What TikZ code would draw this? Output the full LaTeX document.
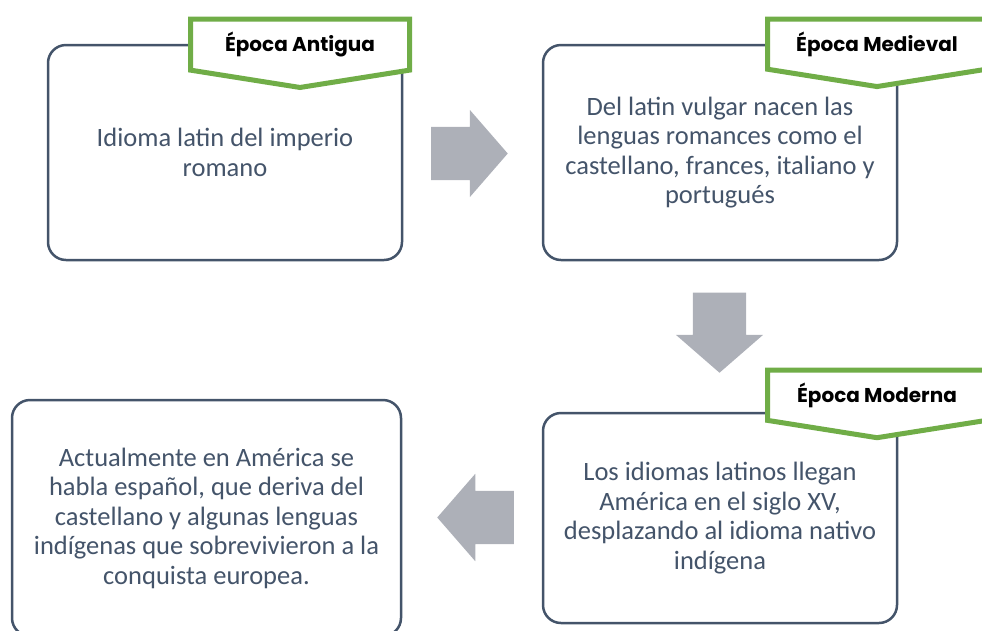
\documentclass[tikz,border=0pt]{standalone}
\usepackage{fontspec}
\setmainfont{Carlito}
\newfontfamily\tagfont{Poppins}
\usetikzlibrary{shapes.symbols,shapes.arrows}
\definecolor{slate}{HTML}{44546A}
\definecolor{leaf}{HTML}{70AD47}
\definecolor{arrowgray}{HTML}{ADB0B8}
\tikzset{
  era box/.style={
    draw=slate,
    line width=2.5pt,
    rounded corners=18pt,
    fill=white,
    text=slate,
    align=center,
    font=\fontsize{26.5}{29.5}\selectfont,
    minimum width={#1},
    inner sep=0pt,
  },
  era tag/.style={
    signal,
    signal to=south,
    signal pointer angle=162,
    draw=leaf,
    line width=5pt,
    fill=white,
    minimum width=219pt,
    minimum height=63pt,
    inner sep=0pt,
    font=\tagfont\bfseries\fontsize{20}{24}\selectfont,
  },
  flow arrow/.style={
    single arrow,
    fill=arrowgray,
    inner sep=26.5pt,
    minimum width=87pt,
    single arrow head extend=17pt,
    single arrow tip angle=98,
    minimum height={#1},
    anchor=tip,
  }
}

\begin{document}
\begin{tikzpicture}[x=1pt,y=-1pt]
    \useasboundingbox (0,0) rectangle (982,630);
    \clip (0,0) rectangle (982,630);

    % the four stages
    \node [era box=354pt, minimum height=215pt] (antigua) at (225,152.5)
        {Idioma latin del imperio\\romano};
    \node [era box=354pt, minimum height=215pt] (medieval) at (720,152.5)
        {Del latin vulgar nacen las\\lenguas romances como el\\castellano, frances, italiano y\\portugués};
    \node [era box=354pt, minimum height=210pt] (moderna) at (720,518)
        {Los idiomas latinos llegan\\América en el siglo XV,\\desplazando al idioma nativo\\indígena};
    \node [era box=389pt, minimum height=236pt] (actual) at (206.5,518)
        {Actualmente en América se\\habla español, que deriva del\\castellano y algunas lenguas\\indígenas que sobrevivieron a la\\conquista europea.};

    % tags
    \node [era tag, anchor=north] (tag antigua) at (300,16.5) {Época Antigua};
    \node [era tag, anchor=north] (tag medieval) at (877,16.5) {Época Medieval};
    \node [era tag, anchor=north] (tag moderna) at (877,367.5) {Época Moderna};

    % arrows between stages
    \node [flow arrow=76pt] (a1) at (508,153.5) {};
    \node [flow arrow=80pt, shape border rotate=270] (a2) at (719.5,373) {};
    \node [flow arrow=75pt, shape border rotate=180] (a3) at (437,517.5) {};
\end{tikzpicture}
\end{document}
